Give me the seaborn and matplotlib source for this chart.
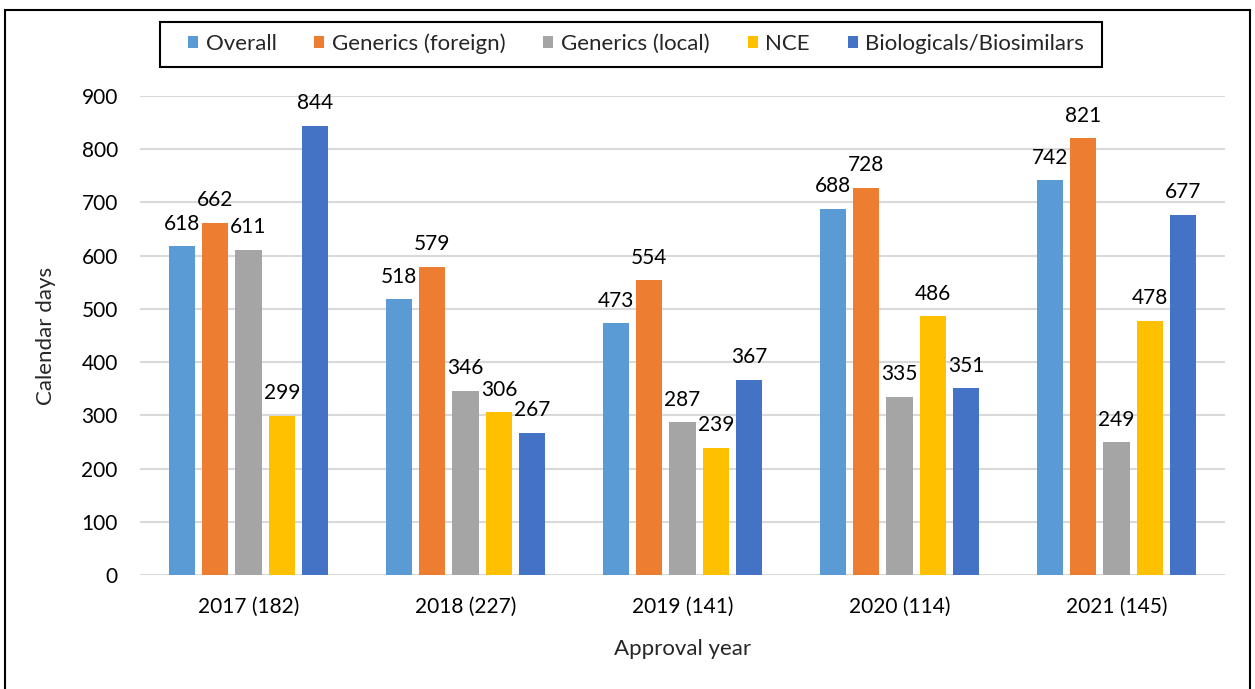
import matplotlib
matplotlib.use("Agg")
import matplotlib.pyplot as plt
import seaborn as sns
import pandas as pd
from matplotlib.patches import Rectangle

years = ["2017 (182)", "2018 (227)", "2019 (141)", "2020 (114)", "2021 (145)"]
categories = ["Overall", "Generics (foreign)", "Generics (local)", "NCE", "Biologicals/Biosimilars"]
overall = [618, 518, 473, 688, 742]
generics_foreign = [662, 579, 554, 728, 821]
generics_local = [611, 346, 287, 335, 249]
nce = [299, 306, 239, 486, 478]
biologicals = [844, 267, 367, 351, 677]
colors = ["#5B9BD5", "#ED7D31", "#A5A5A5", "#FFC000", "#4472C4"]

series = [overall, generics_foreign, generics_local, nce, biologicals]
rows = []
for cat, vals in zip(categories, series):
    for y, v in zip(years, vals):
        rows.append({"year": y, "cat": cat, "days": v})
df = pd.DataFrame(rows)

sns.set_theme(style="white")
plt.rcParams["font.family"] = ["Lato", "DejaVu Sans"]

W, H = 1255, 689
fig = plt.figure(figsize=(W / 100, H / 100), dpi=100)
ax = fig.add_axes([140 / W, 114 / H, 1085 / W, 479 / H])

sns.barplot(data=df, x="year", y="days", hue="cat", hue_order=categories,
            order=years, palette=colors, width=0.77, gap=0.22, ax=ax,
            errorbar=None, saturation=1, linewidth=0)

ax.set_xlim(-0.5, 4.5)
ax.set_ylim(0, 900)
ax.set_yticks(range(0, 901, 100))
ax.grid(axis="y", color="#D9D9D9", lw=1.5)
ax.set_axisbelow(True)
for s in ax.spines.values():
    s.set_visible(False)
ax.tick_params(axis="both", length=0, labelsize=15, colors="black")
ax.tick_params(axis="y", pad=16)
ax.tick_params(axis="x", pad=16)

for c in ax.containers:
    ax.bar_label(c, padding=9, fontsize=15, color="black")

ax.set_ylabel("Calendar days", fontsize=16, labelpad=18)
ax.set_xlabel("Approval year", fontsize=16, labelpad=16)

handles, labels = ax.get_legend_handles_labels()
ax.get_legend().remove()
leg = fig.legend(handles, labels, loc="center",
                 bbox_to_anchor=(636 / W, 1 - 44 / H), ncol=5,
                 frameon=False, fontsize=16,
                 handlelength=0.45, handleheight=0.45,
                 handletextpad=0.35, columnspacing=1.7, borderpad=0.2)

fig.add_artist(Rectangle((160 / W, 1 - 67 / H), 942 / W, 45 / H,
                         transform=fig.transFigure, fill=False,
                         edgecolor="black", lw=1.5))

fig.add_artist(Rectangle((5 / W, -0.02), 1245 / W, 1.02 - 10 / H,
                         transform=fig.transFigure, fill=False,
                         edgecolor="black", lw=1.5))

fig.savefig("out.png", dpi=100)
